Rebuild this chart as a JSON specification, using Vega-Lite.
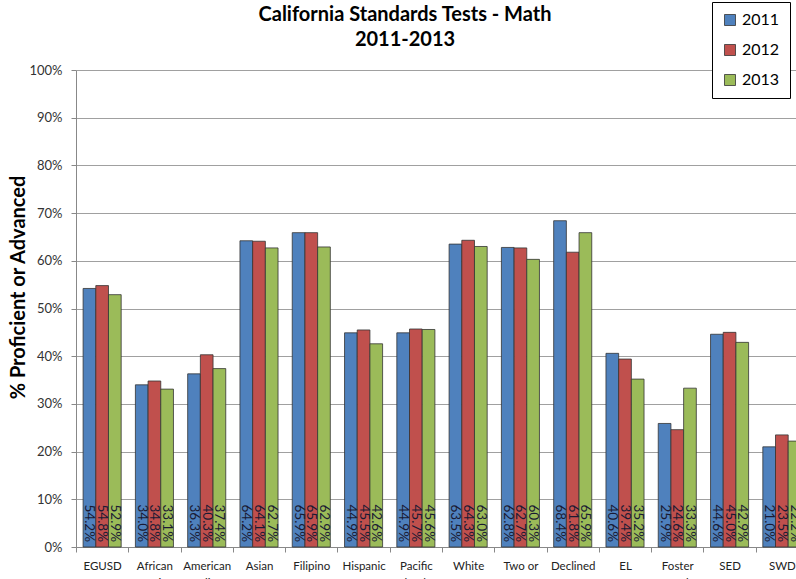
{
  "$schema": "https://vega.github.io/schema/vega-lite/v6.json",
  "width": 720,
  "height": 477,
  "autosize": "none",
  "padding": {"left": 76, "top": 70, "right": 0, "bottom": 32},
  "background": "white",
  "config": {"font": "Lato", "view": {"stroke": null}},
  "title": {
    "text": ["California Standards Tests - Math", "2011-2013"],
    "fontSize": 20,
    "fontWeight": "bold",
    "color": "#000",
    "anchor": "middle",
    "frame": "group",
    "dx": -31,
    "offset": -48,
    "lineHeight": 25
  },
  "data": {
    "values": [
      {"group": "EGUSD", "year": "2011", "value": 0.542},
      {"group": "EGUSD", "year": "2012", "value": 0.548},
      {"group": "EGUSD", "year": "2013", "value": 0.529},
      {"group": "African American", "year": "2011", "value": 0.340},
      {"group": "African American", "year": "2012", "value": 0.348},
      {"group": "African American", "year": "2013", "value": 0.331},
      {"group": "American Indian", "year": "2011", "value": 0.363},
      {"group": "American Indian", "year": "2012", "value": 0.403},
      {"group": "American Indian", "year": "2013", "value": 0.374},
      {"group": "Asian", "year": "2011", "value": 0.642},
      {"group": "Asian", "year": "2012", "value": 0.641},
      {"group": "Asian", "year": "2013", "value": 0.627},
      {"group": "Filipino", "year": "2011", "value": 0.659},
      {"group": "Filipino", "year": "2012", "value": 0.659},
      {"group": "Filipino", "year": "2013", "value": 0.629},
      {"group": "Hispanic", "year": "2011", "value": 0.449},
      {"group": "Hispanic", "year": "2012", "value": 0.455},
      {"group": "Hispanic", "year": "2013", "value": 0.426},
      {"group": "Pacific Islander", "year": "2011", "value": 0.449},
      {"group": "Pacific Islander", "year": "2012", "value": 0.457},
      {"group": "Pacific Islander", "year": "2013", "value": 0.456},
      {"group": "White", "year": "2011", "value": 0.635},
      {"group": "White", "year": "2012", "value": 0.643},
      {"group": "White", "year": "2013", "value": 0.630},
      {"group": "Two or More", "year": "2011", "value": 0.628},
      {"group": "Two or More", "year": "2012", "value": 0.627},
      {"group": "Two or More", "year": "2013", "value": 0.603},
      {"group": "Declined", "year": "2011", "value": 0.684},
      {"group": "Declined", "year": "2012", "value": 0.618},
      {"group": "Declined", "year": "2013", "value": 0.659},
      {"group": "EL", "year": "2011", "value": 0.406},
      {"group": "EL", "year": "2012", "value": 0.394},
      {"group": "EL", "year": "2013", "value": 0.352},
      {"group": "Foster Youth", "year": "2011", "value": 0.259},
      {"group": "Foster Youth", "year": "2012", "value": 0.246},
      {"group": "Foster Youth", "year": "2013", "value": 0.333},
      {"group": "SED", "year": "2011", "value": 0.446},
      {"group": "SED", "year": "2012", "value": 0.450},
      {"group": "SED", "year": "2013", "value": 0.429},
      {"group": "SWD", "year": "2011", "value": 0.210},
      {"group": "SWD", "year": "2012", "value": 0.235},
      {"group": "SWD", "year": "2013", "value": 0.222}
    ]
  },
  "layer": [
    {
      "mark": {"type": "bar", "stroke": "#333", "strokeWidth": 0.8},
      "encoding": {
        "x": {
          "field": "group",
          "type": "nominal",
          "sort": null,
          "scale": {"range": [0, 732], "paddingInner": 0, "paddingOuter": 0},
          "axis": {
            "title": null,
            "labelAngle": 0,
            "tickBand": "extent",
            "domainColor": "#888",
            "tickColor": "#888",
            "tickSize": 5,
            "labelFontSize": 11.5,
            "labelColor": "#222",
            "labelPadding": 8,
            "labelLineHeight": 17,
            "labelExpr": "isValid(datum.value) ? (datum.value == 'Two or More' ? ['Two or', 'More'] : split(datum.value, ' ')) : ''",
            "grid": false
          }
        },
        "xOffset": {
          "field": "year",
          "type": "nominal",
          "scale": {"paddingInner": 0, "paddingOuter": 0.56}
        },
        "y": {
          "field": "value",
          "type": "quantitative",
          "scale": {"domain": [0, 1]},
          "axis": {
            "title": "% Proficient or Advanced",
            "titleFontSize": 20,
            "titleFontWeight": "bold",
            "titleColor": "#000",
            "titleX": -48,
            "titleY": 217,
            "format": ".0%",
            "values": [0, 0.1, 0.2, 0.3, 0.4, 0.5, 0.6, 0.7, 0.8, 0.9, 1],
            "grid": true,
            "gridColor": "#A0A0A0",
            "domainColor": "#888",
            "tickColor": "#888",
            "tickSize": 5,
            "labelPadding": 9,
            "labelFontSize": 13,
            "labelColor": "#333"
          }
        },
        "color": {
          "field": "year",
          "type": "nominal",
          "scale": {"range": ["#4F81BD", "#C0504D", "#9BBB59"]},
          "legend": {
            "orient": "none",
            "legendX": 636,
            "legendY": -68,
            "title": null,
            "strokeColor": "#000",
            "fillColor": "white",
            "padding": 10,
            "symbolType": "square",
            "symbolSize": 121,
            "symbolStrokeColor": "#333",
            "symbolStrokeWidth": 0.8,
            "symbolOpacity": 1,
            "labelFontSize": 16,
            "labelColor": "#000",
            "labelOffset": 4,
            "rowPadding": 14
          }
        }
      }
    },
    {
      "mark": {"type": "text", "angle": 90, "align": "right", "baseline": "middle", "dx": -5, "fontSize": 13.5, "color": "#1a1a33"},
      "encoding": {
        "x": {"field": "group", "type": "nominal", "sort": null},
        "xOffset": {"field": "year", "type": "nominal"},
        "y": {"datum": 0},
        "text": {"field": "value", "format": ".1%"}
      }
    }
  ]
}
